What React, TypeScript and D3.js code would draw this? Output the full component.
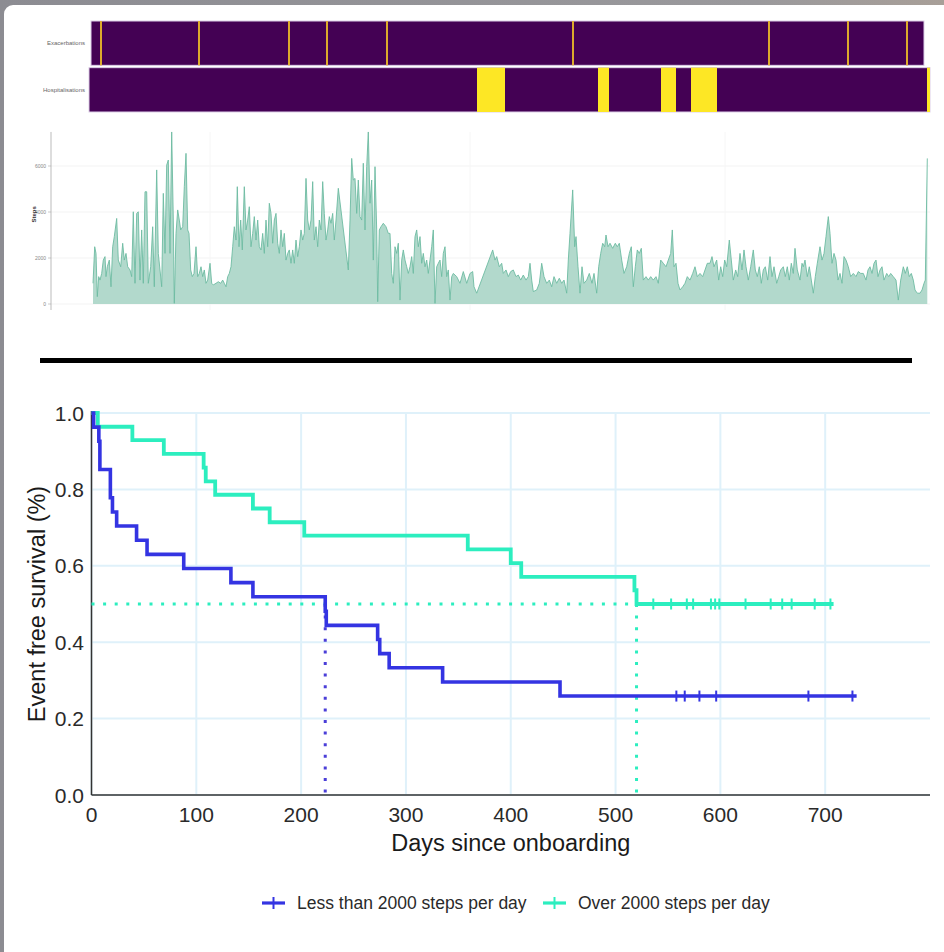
import React from 'react';
import * as d3 from 'd3';

// ---------- Timeline (days since onboarding) ----------
const exacerbationDays = [8, 106, 196, 234, 294, 480, 676, 755, 814];
const hospitalisationSpells: [number, number][] = [
  [384, 412], [505, 516], [568, 583], [598, 624], [834, 837],
];
const timelineRows = ['Exacerbations', 'Hospitalisations'];

// Daily step count: [day, steps]
const stepsData: [number, number][] = [
  [0, 900], [1.7, 2490], [3, 2200], [4.3, 320], [5.7, 1190], [7, 1040], [8.7, 1330], [10.3, 1910],
  [12, 2060], [13, 1190], [14.3, 1620], [16.3, 1910], [18, 750], [19.7, 2490], [21.3, 2930], [23.7, 3720],
  [25.3, 1910], [27.7, 1620], [29.7, 2640], [31.3, 1910], [33, 2200], [34.7, 1620], [37, 1480], [38.7, 1190],
  [40.3, 4010], [42, 900], [43.7, 3940], [45.3, 4010], [47, 1040], [48.7, 3220], [50.3, 900], [52, 4880],
  [53.7, 4880], [55.3, 900], [57.7, 1620], [59.7, 3360], [61.3, 750], [63.7, 5830], [65.3, 2200], [67, 1480],
  [68.7, 750], [70.3, 4810], [72, 2200], [73.7, 6040], [75.3, 6260], [77, 2200], [78.7, 7480], [80.3, 3650],
  [81.3, 30], [83, 3070], [84.7, 4090], [86.3, 3650], [87.7, 3220], [89.7, 3360], [91.3, 5100], [93, 6550],
  [94.7, 3220], [96, 3070], [97.7, 1480], [99.3, 1190], [101, 1330], [103, 2490], [104.7, 1190], [106.3, 1330],
  [108, 1620], [109.7, 1190], [111.3, 1480], [113, 900], [114.7, 1040], [117, 1770], [118.7, 900], [120.3, 830],
  [123, 900], [125.3, 970], [127.7, 900], [129.7, 1040], [131.3, 900], [133, 750], [134.7, 1190], [136.3, 1330],
  [138, 1620], [139.7, 2490], [141.3, 3360], [143, 2780], [144.3, 5100], [146, 2490], [147.7, 3650], [149.3, 2350],
  [151.3, 5100], [153, 3220], [154.7, 3650], [156.3, 4230], [158, 2490], [159.7, 3070], [161.3, 3800], [163, 2780],
  [164.7, 3650], [166.3, 2490], [168, 2350], [169.7, 3070], [171.3, 2200], [173, 3650], [174.7, 2490], [176.3, 4380],
  [178, 3940], [179.7, 2640], [181.3, 3650], [183, 3940], [184.7, 2640], [186.3, 2200], [188, 3220], [189.7, 2490],
  [191.3, 3070], [193, 1910], [194.7, 2200], [196.3, 2350], [198, 1770], [199.7, 2350], [201.3, 1770], [203, 2780],
  [204.7, 2060], [206.3, 2490], [208, 3220], [209.7, 2780], [211.3, 3070], [213, 5460], [214.7, 3650], [216.3, 3220],
  [218, 3650], [219.7, 5320], [221.3, 2780], [223, 3360], [224.7, 2490], [226.3, 3650], [228, 3220], [229.7, 5320],
  [231.3, 3940], [233, 2780], [234.7, 3220], [236.3, 3800], [238, 3510], [239.7, 3940], [241.3, 2780], [243, 3650],
  [245.3, 5030], [255.3, 1480], [257, 3650], [258.7, 6330], [260.3, 5390], [262, 5460], [263.7, 3940], [265.3, 5390],
  [267, 3800], [268.7, 3650], [270.3, 6120], [272, 3220], [273.7, 5970], [275.3, 7480], [277, 4380], [278.7, 5390],
  [280.3, 1910], [282, 5970], [283.7, 3220], [284.7, 100], [286.3, 3220], [288, 3360], [290.3, 3510], [293, 3360],
  [295.3, 3070], [297, 3070], [298.7, 1330], [300.3, 900], [302, 2490], [303.7, 2200], [305.3, 2640], [307, 170],
  [308.7, 1910], [310.3, 2350], [312, 1910], [313.7, 1620], [315.3, 1330], [317, 1620], [318.7, 2060], [320.3, 1330],
  [322, 2930], [323.7, 3220], [325.3, 2490], [327, 2930], [328.7, 1770], [330.3, 2200], [332, 1620], [333.7, 1910],
  [335.3, 1330], [337, 1910], [338.7, 2490], [340.3, 3220], [342, 30], [343.7, 1620], [345.3, 1770], [347, 1910],
  [348.7, 1190], [350.3, 2200], [352, 2490], [353.7, 1190], [355.3, 1480], [357, 170], [358.7, 1190], [360.3, 1330],
  [363.7, 1190], [367, 900], [370.3, 1410], [373.7, 900], [377, 1330], [379.7, 1410], [381, 750], [383.7, 470],
  [399.7, 2350], [402, 1910], [403.7, 2060], [406.3, 1620], [408.7, 1770], [410.3, 1330], [413, 1480], [415.3, 1190],
  [417.7, 1410], [420.3, 1480], [423, 1190], [425.3, 1260], [427.7, 1040], [430.3, 1260], [433, 1040], [435.3, 1190],
  [437, 1770], [438.7, 1040], [440.3, 540], [443.7, 610], [446.3, 900], [448.7, 1770], [451, 1190], [453.7, 900],
  [456.3, 1040], [458.7, 750], [461, 1190], [463.7, 900], [466.3, 1120], [468.7, 900], [471, 1040], [473.7, 470],
  [475.3, 1910], [477, 3070], [479.7, 4960], [481.7, 2490], [483, 2930], [485, 1620], [487, 470], [489, 1620],
  [491, 900], [493.7, 1040], [496.3, 1330], [499, 900], [501, 1330], [503.7, 470], [505.7, 1620], [507.7, 2200],
  [509.7, 2640], [511.7, 2490], [513, 3000], [515, 2490], [517, 2640], [519.7, 2420], [522.3, 2640], [524.3, 2490],
  [526.3, 2640], [528.7, 1910], [531, 1330], [533.7, 1620], [536.3, 2200], [538.3, 2490], [540.3, 750], [542.3, 1620],
  [544.3, 2350], [546.3, 2200], [548.3, 2420], [550.3, 1040], [553, 1190], [555.3, 1040], [557.7, 1190], [560.3, 1040],
  [563, 1190], [565.3, 900], [567.7, 1910], [570.3, 1770], [573, 1620], [575.3, 1910], [577.7, 2200], [579.3, 3220],
  [581, 1620], [583, 1770], [585, 900], [587, 610], [589.7, 750], [592, 900], [594.3, 1190], [597, 1040],
  [599.7, 1330], [602, 1620], [604.3, 1190], [607, 1330], [609.7, 1190], [612, 1480], [614.3, 1770], [617, 1770],
  [619, 2060], [621, 1620], [623.7, 1910], [625.7, 1040], [627.7, 1620], [629.7, 1190], [631.7, 1910], [633.7, 1620],
  [636.3, 2780], [638.3, 1910], [640.3, 1040], [642.7, 1480], [644.7, 1190], [647, 2200], [649, 1480], [651, 2350],
  [653, 1620], [655.3, 1040], [657.7, 1620], [660.3, 2350], [662.3, 1480], [664.3, 1190], [666.3, 1620], [668.3, 900],
  [670.3, 1480], [672.3, 1620], [674.7, 1040], [677, 2060], [679, 1190], [681, 1620], [683.7, 900], [685.7, 1190],
  [687.7, 1480], [690.3, 1620], [692.3, 1190], [694.3, 1620], [696.3, 1040], [698.3, 1770], [700.3, 1330], [702, 2420],
  [704.3, 1480], [707, 1040], [709, 1770], [710.3, 1620], [712, 1910], [714.3, 1190], [716.3, 1620], [718.3, 1040],
  [720.3, 470], [722.3, 1190], [724.3, 1770], [727, 2490], [729, 1910], [731, 2200], [733, 2930], [735.3, 3800],
  [737, 3070], [739, 1770], [741, 2200], [743, 1910], [745, 1040], [747, 1330], [749, 900], [751, 2060],
  [753, 1910], [755.3, 1620], [757.7, 1190], [760.3, 1330], [763, 1190], [765.3, 1410], [767.7, 1330], [770.3, 1330],
  [773, 1040], [775, 1480], [777, 1620], [779, 1330], [781, 1770], [783, 1910], [785, 1190], [787, 1480],
  [789, 1620], [791, 1040], [793.7, 1330], [795.7, 1190], [797.7, 1330], [800.3, 1190], [803, 1040], [805.3, 170],
  [807.7, 1040], [810.3, 1620], [812.3, 1330], [814.3, 1620], [816.3, 1190], [818.3, 1330], [820.3, 1040], [822, 610],
  [824.3, 470], [827, 470], [829, 610], [831, 900], [832.3, 1040], [834.3, 6330],
];
const stepTicks = [0, 2000, 4000, 6000];

// ---------- Kaplan-Meier ----------
const lowTimes = [0, 2, 7, 8, 18, 20, 24, 43, 53, 88, 133, 154, 223, 224, 273, 275, 284, 335, 447];
const lowSurv = [1, 0.963, 0.926, 0.852, 0.778, 0.741, 0.704, 0.667, 0.63, 0.593, 0.556, 0.519, 0.481, 0.444, 0.407, 0.37, 0.333, 0.296, 0.259];
const lowCensor = [558, 566, 580, 596, 684, 726];
const lowEnd = 730;

const highTimes = [0, 6, 39, 69, 107, 109, 118, 154, 170, 203, 359, 400, 410, 518, 520];
const highSurv = [1, 0.964, 0.929, 0.893, 0.857, 0.821, 0.786, 0.75, 0.714, 0.679, 0.643, 0.607, 0.571, 0.536, 0.5];
const highCensor = [536, 553, 568, 574, 591, 595, 599, 624, 648, 659, 668, 690, 705];
const highEnd = 708;

const medianLow = 223;
const medianHigh = 520;
const kmXTicks = [0, 100, 200, 300, 400, 500, 600, 700];
const kmYTicks = [0, 0.2, 0.4, 0.6, 0.8, 1.0];
const legendLabels = ['Less than 2000 steps per day', 'Over 2000 steps per day'];

const LOW_COLOR = '#3434e2';
const HIGH_COLOR = '#2ceebf';
const PURPLE = '#440154';
const YELLOW = '#fde725';
const FONT = '"Liberation Sans", Arial, sans-serif';

export default function App() {
  const tx = d3.scaleLinear().domain([0, 835]).range([93, 928]);
  const sy = d3.scaleLinear().domain([0, 6000]).range([304, 166]);
  const area = d3.area<[number, number]>()
    .x((d) => tx(d[0]))
    .y0(sy(0))
    .y1((d) => sy(d[1]));
  const line = d3.line<[number, number]>()
    .x((d) => tx(d[0]))
    .y((d) => sy(d[1]));

  const band = d3.scaleBand().domain(timelineRows).range([21, 112]).paddingInner(0.05);

  const kx = d3.scaleLinear().domain([0, 800]).range([91.5, 930]);
  const ky = d3.scaleLinear().domain([0, 1]).range([795, 413]);
  const kmLine = d3.line<[number, number]>()
    .x((d) => kx(d[0]))
    .y((d) => ky(d[1]))
    .curve(d3.curveStepAfter);
  const lowPts: [number, number][] = lowTimes.map((t, i) => [t, lowSurv[i]]);
  lowPts.push([lowEnd, lowSurv[lowSurv.length - 1]]);
  const highPts: [number, number][] = highTimes.map((t, i) => [t, highSurv[i]]);
  highPts.push([highEnd, highSurv[highSurv.length - 1]]);
  const lowLast = lowSurv[lowSurv.length - 1];
  const highLast = highSurv[highSurv.length - 1];

  const exY = band('Exacerbations')!;
  const hoY = band('Hospitalisations')!;
  const bh = band.bandwidth();

  return (
    <svg
      width={944}
      height={952}
      style={{ position: 'absolute', left: 0, top: 0, display: 'block' }}
      fontFamily={FONT}
    >
      <defs>
        <linearGradient id="frameGrad" x1="0" x2="1" y1="0" y2="0">
          <stop offset="0" stopColor="#8c8c92" />
          <stop offset="0.8" stopColor="#9a999c" />
          <stop offset="1" stopColor="#a89f98" />
        </linearGradient>
      </defs>
      <rect x={0} y={0} width={944} height={952} fill="url(#frameGrad)" />
      <rect x={4} y={5} width={960} height={960} rx={9} fill="#ffffff" />

      {/* Exacerbations row */}
      <rect x={tx(-2)} y={exY} width={tx(831) - tx(-2)} height={bh} fill={PURPLE} stroke="#ddd0e8" strokeWidth={1} />
      {exacerbationDays.map((d) => (
        <rect key={'ex' + d} x={tx(d) - 1} y={exY} width={2} height={bh} fill="#dcaa2c" />
      ))}
      {/* Hospitalisations row */}
      <rect x={tx(-4)} y={hoY} width={tx(837) - tx(-4)} height={bh} fill={PURPLE} stroke="#ddd0e8" strokeWidth={1} />
      {hospitalisationSpells.map(([a, b]) => (
        <rect key={'ho' + a} x={tx(a)} y={hoY} width={tx(b) - tx(a)} height={bh} fill={YELLOW} />
      ))}
      {timelineRows.map((r) => (
        <text key={r} x={85} y={band(r)! + bh / 2} textAnchor="end" dominantBaseline="central" fontSize={6} fill="#666">
          {r}
        </text>
      ))}

      {/* Steps chart */}
      {stepTicks.map((t) => (
        <g key={'st' + t}>
          <line x1={51} x2={930} y1={sy(t)} y2={sy(t)} stroke="#f3f3f3" strokeWidth={1} />
          <line x1={48} x2={51} y1={sy(t)} y2={sy(t)} stroke="#aaa" strokeWidth={0.6} />
          <text x={46} y={sy(t)} textAnchor="end" dominantBaseline="central" fontSize={5} fill="#888">
            {t}
          </text>
        </g>
      ))}
      {[117, 377, 632].map((d) => (
        <line key={'vg' + d} x1={tx(d)} x2={tx(d)} y1={sy(7480)} y2={310} stroke="#f6f6f6" strokeWidth={1} />
      ))}
      <line x1={51} x2={51} y1={sy(7480)} y2={310} stroke="#aaa" strokeWidth={0.8} />
      <path d={area(stepsData) || ''} fill="#b2d9cc" />
      <path d={line(stepsData) || ''} fill="none" stroke="#6dbba2" strokeWidth={0.9} />
      <text transform={`translate(36, ${sy(3900)}) rotate(-90)`} textAnchor="middle" fontSize={6} fontWeight="bold" fill="#333">
        Steps
      </text>

      {/* Separator */}
      <rect x={40} y={358} width={872} height={5} fill="#000" />

      {/* KM plot */}
      {kmYTicks.map((t) => (
        <line key={'hg' + t} x1={kx(0)} x2={930} y1={ky(t)} y2={ky(t)} stroke="#dff1fa" strokeWidth={2} />
      ))}
      {kmXTicks.map((t) => (
        <line key={'vg' + t} x1={kx(t)} x2={kx(t)} y1={ky(1)} y2={ky(0)} stroke="#dff1fa" strokeWidth={2} />
      ))}
      <line x1={kx(0)} x2={kx(0)} y1={ky(1) - 2} y2={ky(0)} stroke="#333" strokeWidth={1.5} />
      <line x1={kx(0)} x2={930} y1={ky(0)} y2={ky(0)} stroke="#333" strokeWidth={1.5} />
      {kmYTicks.map((t) => (
        <text key={'yl' + t} x={84} y={ky(t)} textAnchor="end" dominantBaseline="central" fontSize={21} fill="#2a2a2a">
          {t.toFixed(1)}
        </text>
      ))}
      {kmXTicks.map((t) => (
        <text key={'xl' + t} x={kx(t)} y={822} textAnchor="middle" fontSize={21} fill="#2a2a2a">
          {t}
        </text>
      ))}
      <text x={kx(400)} y={851} textAnchor="middle" fontSize={23.5} fill="#1a1a1a">
        Days since onboarding
      </text>
      <text transform={`translate(45, ${ky(0.5)}) rotate(-90)`} textAnchor="middle" fontSize={23.5} fill="#1a1a1a">
        Event free survival (%)
      </text>

      {/* median lines */}
      <line x1={kx(0)} x2={kx(medianHigh)} y1={ky(0.5)} y2={ky(0.5)} stroke={HIGH_COLOR} strokeWidth={3} strokeDasharray="3 8.6" />
      <line x1={kx(medianLow)} x2={kx(medianLow)} y1={ky(0.5)} y2={ky(0)} stroke="#4a3ed8" strokeWidth={3} strokeDasharray="3 8.6" />
      <line x1={kx(medianHigh)} x2={kx(medianHigh)} y1={ky(0.5)} y2={ky(0)} stroke={HIGH_COLOR} strokeWidth={3} strokeDasharray="3 8.6" />

      {/* curves */}
      <path d={kmLine(highPts) || ''} fill="none" stroke={HIGH_COLOR} strokeWidth={3.8} />
      <path d={kmLine(lowPts) || ''} fill="none" stroke={LOW_COLOR} strokeWidth={3.6} />
      {highCensor.map((c) => (
        <line key={'hc' + c} x1={kx(c)} x2={kx(c)} y1={ky(highLast) - 5.5} y2={ky(highLast) + 5.5} stroke={HIGH_COLOR} strokeWidth={2} />
      ))}
      {lowCensor.map((c) => (
        <line key={'lc' + c} x1={kx(c)} x2={kx(c)} y1={ky(lowLast) - 5.5} y2={ky(lowLast) + 5.5} stroke={LOW_COLOR} strokeWidth={2} />
      ))}

      {/* legend */}
      {[
        { label: legendLabels[0], color: LOW_COLOR, x0: 262 },
        { label: legendLabels[1], color: HIGH_COLOR, x0: 543 },
      ].map((l) => (
        <g key={l.label}>
          <line x1={l.x0} x2={l.x0 + 23} y1={903} y2={903} stroke={l.color} strokeWidth={3.2} />
          <line x1={l.x0 + 11.5} x2={l.x0 + 11.5} y1={897} y2={909} stroke={l.color} strokeWidth={2} />
          <text x={l.x0 + 35} y={903} dominantBaseline="central" fontSize={17.5} fill="#2a2a2a">
            {l.label}
          </text>
        </g>
      ))}
    </svg>
  );
}
